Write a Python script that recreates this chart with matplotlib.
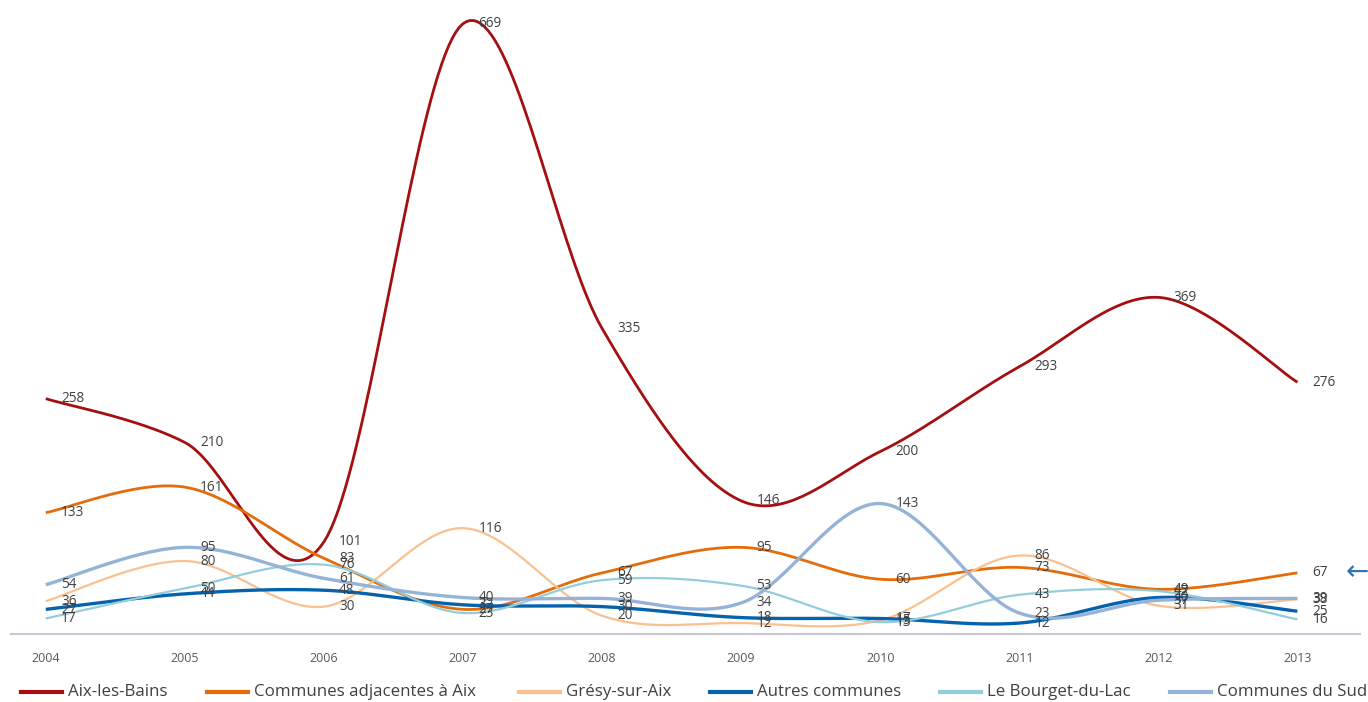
import numpy as np
import matplotlib
matplotlib.use("Agg")
import matplotlib.pyplot as plt
from matplotlib.lines import Line2D

years = ["2004", "2005", "2006", "2007", "2008", "2009", "2010", "2011", "2012", "2013"]

aix = [258, 210, 101, 669, 335, 146, 200, 293, 369, 276]
adjacentes = [133, 161, 83, 27, 67, 95, 60, 73, 49, 67]
gresy = [36, 80, 30, 116, 20, 12, 15, 86, 31, 38]
autres = [27, 44, 48, 32, 30, 18, 17, 12, 40, 25]
bourget = [17, 50, 76, 23, 59, 53, 13, 43, 47, 16]
sud = [54, 95, 61, 40, 39, 34, 143, 23, 37, 39]

series_names = ["Aix-les-Bains", "Communes adjacentes à Aix", "Grésy-sur-Aix",
                "Autres communes", "Le Bourget-du-Lac", "Communes du Sud"]
series_values = [aix, adjacentes, gresy, autres, bourget, sud]
colors = ["#A50F0F", "#E46C0A", "#FAC090", "#0563AE", "#92CDDC", "#95B3D7"]
widths = [2.0, 2.0, 1.6, 2.4, 1.6, 2.4]

plt.rcParams['font.family'] = ['Open Sans', 'DejaVu Sans']

fig = plt.figure(figsize=(13.68, 7.02), dpi=100)
ax = fig.add_axes([11 / 1368, 68 / 702, 1349 / 1368, 634 / 702])

def smooth(xs, ys, n=40):
    xs = np.asarray(xs, float)
    ys = np.asarray(ys, float)
    P = np.column_stack([xs, ys])
    out = []
    for i in range(len(P) - 1):
        p0 = P[i - 1] if i > 0 else P[i]
        p1 = P[i]
        p2 = P[i + 1]
        p3 = P[i + 2] if i + 2 < len(P) else P[i + 1]
        c1 = p1 + (p2 - p0) / 6.0
        c2 = p2 - (p3 - p1) / 6.0
        t = np.linspace(0, 1, n)[:, None]
        seg = ((1 - t) ** 3) * p1 + 3 * ((1 - t) ** 2) * t * c1 + 3 * (1 - t) * t ** 2 * c2 + t ** 3 * p2
        out.append(seg if i == 0 else seg[1:])
    out = np.vstack(out)
    return out[:, 0], out[:, 1]

x = np.arange(len(years))
for vals, c, lw in zip(series_values, colors, widths):
    sx, sy = smooth(x, vals)
    ax.plot(sx, sy, color=c, lw=lw, solid_capstyle='butt', zorder=3)
for vals in series_values:
    for xi, v in zip(x, vals):
        ax.annotate(str(v), (xi, v), xytext=(11, 0), textcoords='offset points',
                    ha='left', va='center', fontsize=9.8, color='#404040', zorder=4)

ax.set_xlim(-0.25, 9.45)
ax.set_ylim(0, 695)
for s in ['top', 'right', 'left']:
    ax.spines[s].set_visible(False)
ax.spines['bottom'].set_color('#C8C6D6')
ax.spines['bottom'].set_linewidth(1.5)
ax.set_yticks([])
ax.set_xticks(x)
ax.set_xticklabels(years, fontsize=9, color='#595959')
ax.tick_params(axis='x', length=0, pad=13)

# legend drawn manually along the bottom
leg_y = 1 - 692 / 702
text_x = [68, 254, 566, 757, 987, 1217]
for name, c, tx in zip(series_names, colors, text_x):
    fig.add_artist(Line2D([(tx - 47) / 1368, (tx - 6) / 1368], [leg_y, leg_y],
                          color=c, lw=3, transform=fig.transFigure))
    fig.text(tx / 1368, leg_y, name, fontsize=12.2, color='#404040',
             va='center', ha='left')

fig.text(1357 / 1368, 1 - 572 / 702, "←", fontsize=20, color='#2E75B6',
         ha='center', va='center', family=['DejaVu Sans'])

fig.savefig("out.png", dpi=100)
